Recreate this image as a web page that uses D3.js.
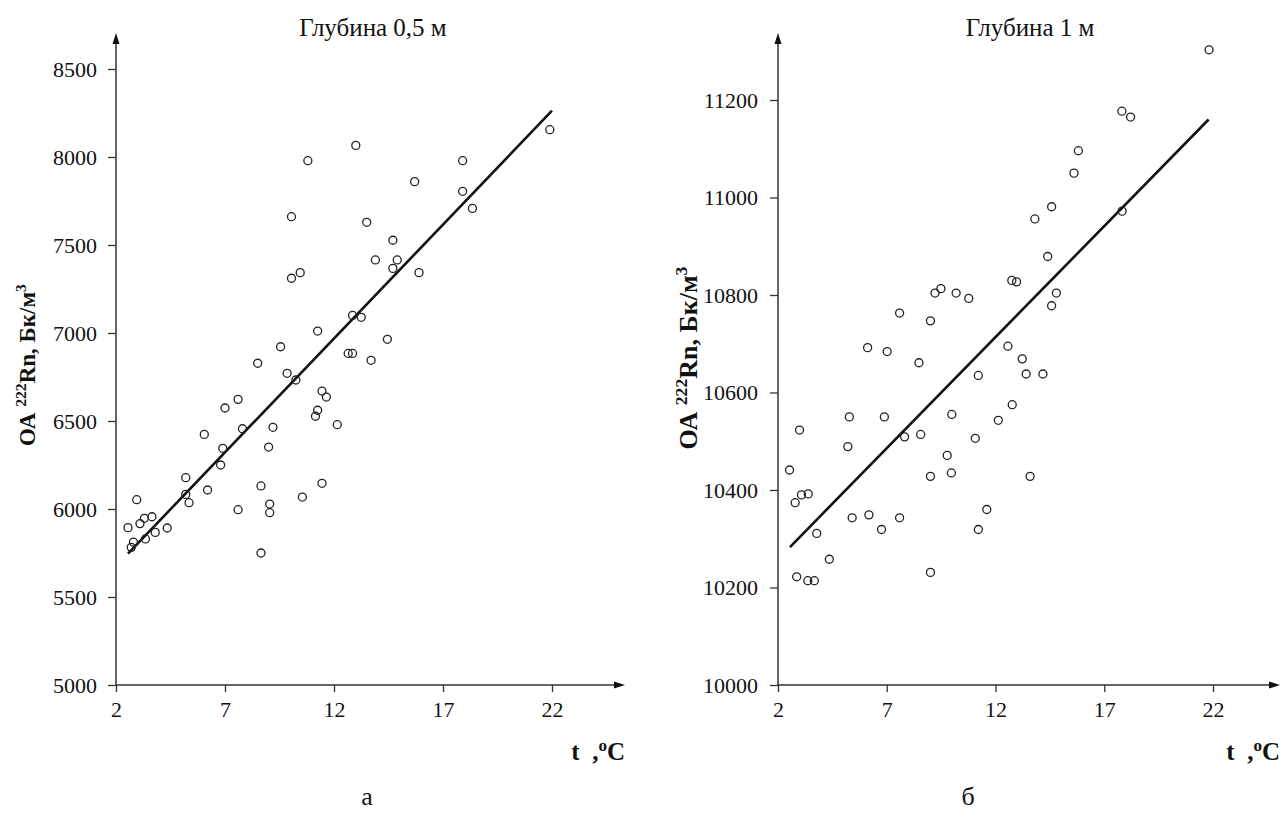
<!DOCTYPE html>
<html>
<head>
<meta charset="utf-8">
<script src="https://cdn.jsdelivr.net/npm/d3@7"></script>
<style>
  body { margin: 0; background: #fff; }
  svg text { font-family: "Liberation Serif", "Times New Roman", serif; fill: #111; }
</style>
</head>
<body>
<svg id="chart" width="1283" height="836"></svg>
<script>
// depth 0.5 m
const leftT = [21.9, 13.0, 10.8, 17.9, 15.7, 17.9, 18.35, 10.05, 13.5, 14.7, 13.9, 14.9, 14.7, 15.9, 10.05,
  10.45, 12.85, 13.25, 11.25, 14.45, 12.65, 12.85, 13.7, 9.55, 8.5, 9.85, 10.25, 11.45, 11.65, 11.25, 11.15,
  12.15, 7.6, 7.0, 7.8, 9.2, 6.05, 6.9, 9.0, 6.8, 5.2, 8.65, 11.45, 6.2, 5.2, 5.35, 10.55, 9.05, 9.05, 7.6,
  8.65, 2.95, 2.55, 3.1, 3.3, 3.65, 4.35, 3.8, 3.35, 2.8, 2.7]
const leftOA = [8155, 8066, 7979, 7979, 7860, 7805, 7708, 7661, 7629, 7527, 7415, 7415, 7367, 7343, 7311,
  7343, 7100, 7089, 7011, 6964, 6884, 6884, 6845, 6922, 6828, 6771, 6733, 6670, 6636, 6561, 6527,
  6479, 6623, 6574, 6456, 6464, 6424, 6345, 6352, 6250, 6178, 6131, 6146, 6108, 6083, 6036, 6068, 6028, 5979, 5996,
  5750, 6053, 5894, 5917, 5947, 5956, 5892, 5867, 5830, 5812, 5782]
const leftFitT = [2.55, 22.0]
const leftFitOA = [5746, 8263]
const leftTicksY = [5000, 5500, 6000, 6500, 7000, 7500, 8000, 8500]

// depth 1 m
const rightT = [21.82, 17.81, 18.21, 15.81, 15.61, 14.58, 13.81, 17.82, 14.40, 12.75, 12.97, 14.80, 14.58,
  9.22, 9.49, 10.19, 10.77, 7.59, 9.01, 6.12, 7.02, 8.48, 12.57, 13.23, 13.41, 14.18, 11.21, 5.28, 6.89,
  9.99, 12.13, 12.77, 5.21, 7.82, 8.56, 11.07, 9.78, 9.97, 9.01, 13.59, 2.53, 2.99, 2.79, 3.08, 3.39,
  3.78, 5.41, 6.18, 6.76, 7.59, 11.21, 11.60, 4.36, 2.86, 3.37, 3.67, 9.01]
const rightOA = [11303, 11177, 11165, 11096, 11050, 10981, 10956, 10972, 10879, 10830, 10827, 10804, 10778,
  10804, 10813, 10804, 10793, 10763, 10747, 10692, 10684, 10661, 10695, 10669, 10638, 10638, 10635, 10550, 10550,
  10555, 10543, 10575, 10489, 10509, 10514, 10506, 10471, 10435, 10428, 10428, 10441, 10523, 10374, 10390, 10392,
  10311, 10343, 10349, 10319, 10343, 10319, 10360, 10258, 10222, 10214, 10214, 10231]
const rightFitT = [2.55, 21.8]
const rightFitOA = [10283, 11160]
const rightTicksY = [10000, 10200, 10400, 10600, 10800, 11000, 11200]

const tTicks = [2, 7, 12, 17, 22]

const svg = d3.select('#chart')

function panel(o) {
  const x = d3.scaleLinear().domain([2, 22]).range([o.x0, o.x1])
  const y = d3.scaleLinear().domain(o.yDomain).range([685, o.yTop])
  const g = svg.append('g')
  const axisColor = '#333'

  // axis lines with arrows
  g.append('line').attr('x1', o.x0).attr('y1', 685).attr('x2', o.x0).attr('y2', 38)
    .attr('stroke', axisColor).attr('stroke-width', 1.5)
  g.append('path').attr('d', `M${o.x0 - 3.5},44 L${o.x0},33 L${o.x0 + 3.5},44 Z`).attr('fill', '#111')
  g.append('line').attr('x1', o.x0).attr('y1', 685).attr('x2', o.arrowX - 4).attr('y2', 685)
    .attr('stroke', axisColor).attr('stroke-width', 1.5)
  g.append('path').attr('d', `M${o.arrowX - 11},681.5 L${o.arrowX},685 L${o.arrowX - 11},688.5 Z`).attr('fill', '#111')

  const ya = g.append('g').attr('transform', `translate(${o.x0},0)`)
    .call(d3.axisLeft(y).tickValues(o.yTicks).tickFormat(d3.format('d')).tickSize(8).tickPadding(o.yPad).tickSizeOuter(0))
  ya.select('.domain').remove()
  ya.selectAll('line').attr('stroke', axisColor).attr('stroke-width', 1.3)
  ya.selectAll('text').attr('font-size', 22).attr('font-family', '"Liberation Serif", serif').attr('fill', '#111')

  const xa = g.append('g').attr('transform', 'translate(0,685)')
    .call(d3.axisBottom(x).tickValues(tTicks).tickSize(7).tickPadding(9).tickSizeOuter(0))
  xa.select('.domain').remove()
  xa.selectAll('line').attr('stroke', axisColor).attr('stroke-width', 1.3)
  xa.selectAll('text').attr('font-size', 22).attr('font-family', '"Liberation Serif", serif').attr('fill', '#111')

  // regression line
  const fit = o.fitT.map((t, i) => [t, o.fitOA[i]])
  g.append('path').datum(fit)
    .attr('d', d3.line().x(d => x(d[0])).y(d => y(d[1])))
    .attr('stroke', '#111').attr('stroke-width', 2.6).attr('fill', 'none')

  // points
  const pts = o.t.map((t, i) => [t, o.oa[i]])
  g.selectAll('circle.pt').data(pts).enter().append('circle')
    .attr('class', 'pt')
    .attr('cx', d => x(d[0])).attr('cy', d => y(d[1])).attr('r', 4)
    .attr('fill', 'none').attr('stroke', '#222').attr('stroke-width', 1.3)

  // titles and labels
  g.append('text').attr('x', o.titleX).attr('y', 36).attr('text-anchor', 'middle')
    .attr('font-size', 25).text(o.title)

  const fs = o.labelSize
  const yl = g.append('text').attr('transform', `translate(${o.labelX},${o.labelY}) rotate(-90)`)
    .attr('text-anchor', 'middle').attr('font-size', fs).attr('font-weight', 'bold')
  yl.append('tspan').text('ОА ')
  yl.append('tspan').attr('font-size', fs * 0.68).attr('dy', -fs * 0.38).text('222')
  yl.append('tspan').attr('dy', fs * 0.38).text('Rn, Бк/м')
  yl.append('tspan').attr('font-size', fs * 0.68).attr('dy', -fs * 0.38).text('3')

  const xl = g.append('text').attr('x', o.arrowX).attr('y', 760).attr('text-anchor', 'end')
    .attr('font-size', 25).attr('font-weight', 'bold')
  xl.append('tspan').text('t\u00a0\u00a0,')
  xl.append('tspan').attr('font-size', 17).attr('dy', -9).text('o')
  xl.append('tspan').attr('dy', 9).text('C')

  svg.append('text').attr('x', o.captionX).attr('y', 805).attr('text-anchor', 'middle')
    .attr('font-size', 26).text(o.caption)
}

panel({ x0: 116, x1: 552, arrowX: 625, yDomain: [5000, 8500], yTop: 69, yTicks: leftTicksY, yPad: 11,
  t: leftT, oa: leftOA, fitT: leftFitT, fitOA: leftFitOA, title: 'Глубина 0,5 м', titleX: 373,
  labelX: 35, labelY: 365, labelSize: 23, captionX: 367, caption: 'а' })
panel({ x0: 778, x1: 1213, arrowX: 1280, yDomain: [10000, 11200], yTop: 100, yTicks: rightTicksY, yPad: 12,
  t: rightT, oa: rightOA, fitT: rightFitT, fitOA: rightFitOA, title: 'Глубина 1 м', titleX: 1030,
  labelX: 697, labelY: 358, labelSize: 26, captionX: 968, caption: 'б' })
</script>
</body>
</html>
